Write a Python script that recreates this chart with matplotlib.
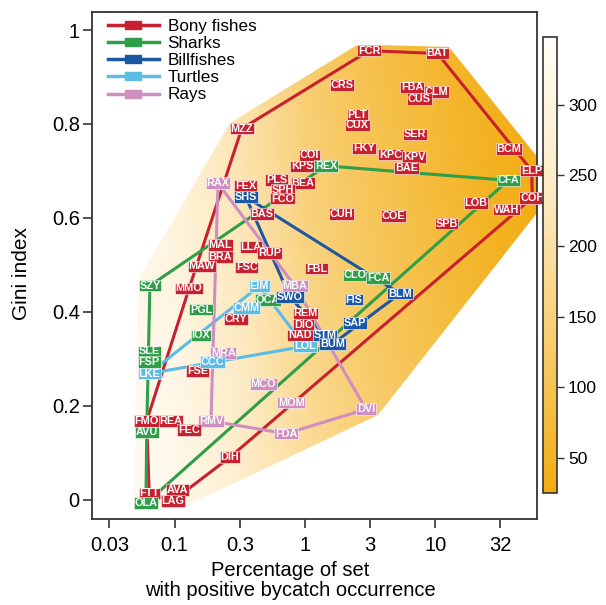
import numpy as np
import matplotlib
matplotlib.use('Agg')
import matplotlib.pyplot as plt
from matplotlib.colors import LinearSegmentedColormap
from matplotlib.lines import Line2D
from matplotlib.patches import Polygon
from matplotlib.path import Path

plt.rcParams['font.family'] = ['Liberation Sans', 'DejaVu Sans']

# species codes, % of set with positive bycatch, Gini index
bony_names = ['MZZ', 'FCR', 'BAT', 'CRS', 'FBA', 'CLM', 'CUS', 'PLT', 'CUX', 'SER',
              'FKY', 'KPC', 'KPV', 'BAE', 'COI', 'KPS', 'BEA', 'PLS', 'SPH', 'FCO',
              'FEX', 'BAS', 'BCM', 'ELP', 'COH', 'LOB', 'WAH', 'CUH', 'COE', 'SPB',
              'MAL', 'LLA', 'BRA', 'RUP', 'MAW', 'FSC', 'MMO', 'FBL', 'CRY', 'REM',
              'DIO', 'NAD', 'FSE', 'FMO', 'REA', 'FEC', 'DIH', 'FTT', 'AVA', 'LAG']
bony_pct = [0.327, 3.10, 10.4, 1.93, 6.66, 10.2, 7.54, 2.52, 2.52, 6.98,
            2.84, 4.55, 6.87, 6.03, 1.08, 0.948, 0.966, 0.607, 0.674, 0.674,
            0.351, 0.470, 36.8, 54.9, 55.5, 20.6, 35.3, 1.91, 4.76, 12.2,
            0.225, 0.385, 0.225, 0.532, 0.161, 0.357, 0.129, 1.23, 0.295, 1.01,
            0.982, 0.915, 0.150, 0.0610, 0.0937, 0.129, 0.266, 0.0638, 0.105, 0.0966]
bony_gini = [0.790, 0.956, 0.950, 0.883, 0.878, 0.868, 0.853, 0.819, 0.797, 0.778,
             0.748, 0.735, 0.730, 0.706, 0.733, 0.710, 0.674, 0.681, 0.659, 0.641,
             0.668, 0.609, 0.747, 0.701, 0.643, 0.632, 0.618, 0.609, 0.604, 0.588,
             0.542, 0.538, 0.517, 0.526, 0.497, 0.495, 0.450, 0.492, 0.385, 0.397,
             0.372, 0.350, 0.274, 0.168, 0.168, 0.149, 0.091, 0.014, 0.021, -0.002]

shark_names = ['REX', 'CFA', 'CLO', 'FCA', 'OCA', 'SZY', 'PGL', 'IOX', 'SLE', 'FSP', 'AVU', 'OLA']
shark_pct = [1.45, 36.3, 2.42, 3.65, 0.517, 0.0646, 0.159, 0.159, 0.0638, 0.0638, 0.0610, 0.0602]
shark_gini = [0.711, 0.680, 0.478, 0.472, 0.425, 0.456, 0.405, 0.350, 0.316, 0.294, 0.144, -0.007]

bill_names = ['SHS', 'SWO', 'BLM', 'FIS', 'SAP', 'STM', 'BUM']
bill_pct = [0.351, 0.767, 5.36, 2.38, 2.42, 1.42, 1.63]
bill_gini = [0.645, 0.432, 0.439, 0.426, 0.377, 0.350, 0.332]

turtle_names = ['EIM', 'CMM', 'CCC', 'LKE', 'LOL']
turtle_pct = [0.446, 0.357, 0.196, 0.0638, 1.0]
turtle_gini = [0.455, 0.408, 0.294, 0.269, 0.327]

ray_names = ['RAX', 'MBA', 'MRA', 'MCO', 'MOM', 'RMV', 'FDA', 'DVI']
ray_pct = [0.215, 0.838, 0.236, 0.479, 0.785, 0.190, 0.715, 2.94]
ray_gini = [0.674, 0.455, 0.313, 0.247, 0.207, 0.168, 0.141, 0.193]

# background shading values (colour bar units), read on a coarse grid
grad_logx = [-1.65, -1.0, -0.5, 0.0, 0.5, 1.0, 1.5, 1.8]
grad_gini = [-0.05, 0.5, 1.05]
grad_vals = [[348, 330, 270, 200, 150, 110, 70, 50],
             [348, 300, 230, 160, 115, 80, 45, 32],
             [348, 280, 200, 130, 90, 60, 35, 28]]
cbar_ticks = [50, 100, 150, 200, 250, 300]

xtick_logs = [-1.5, -1, -0.5, 0, 0.5, 1, 1.5]
xtick_labels = ['0.03', '0.1', '0.3', '1', '3', '10', '32']
ytick_vals = [0, 0.2, 0.4, 0.6, 0.8, 1]
ytick_labels = ['0', '0.2', '0.4', '0.6', '0.8', '1']

groups = [
    ('Bony fishes', bony_names, bony_pct, bony_gini, '#C8202E'),
    ('Sharks', shark_names, shark_pct, shark_gini, '#2E9E48'),
    ('Billfishes', bill_names, bill_pct, bill_gini, '#1D56A3'),
    ('Turtles', turtle_names, turtle_pct, turtle_gini, '#5BBCE6'),
    ('Rays', ray_names, ray_pct, ray_gini, '#CF8DC0'),
]


def convex_hull(pts):
    pts = sorted(set(map(tuple, pts)))

    def cross(o, a, b):
        return (a[0] - o[0]) * (b[1] - o[1]) - (a[1] - o[1]) * (b[0] - o[0])

    lower, upper = [], []
    for p in pts:
        while len(lower) >= 2 and cross(lower[-2], lower[-1], p) <= 0:
            lower.pop()
        lower.append(p)
    for p in reversed(pts):
        while len(upper) >= 2 and cross(upper[-2], upper[-1], p) <= 0:
            upper.pop()
        upper.append(p)
    h = lower[:-1] + upper[:-1]
    h.append(h[0])
    return np.array(h)


fig = plt.figure(figsize=(6.06, 6.05), dpi=100)
ax = fig.add_axes([0.1523, 0.1426, 0.7333, 0.8381])
cax = fig.add_axes([0.896, 0.1851, 0.0231, 0.7537])

ax.set_xscale('log')

cmap = LinearSegmentedColormap.from_list('bycatch', ['#F2AC10', '#F8CD6E', '#FDEBC4', '#FFFDF7'])

# shaded region: hull of all label boxes
all_pts = []
for _, n, p, g, _c in groups:
    for lx, gy in zip(np.log10(p), g):
        for dx in (-0.09, 0.09):
            for dy in (-0.013, 0.013):
                all_pts.append((lx + dx, gy + dy))
shade_hull = convex_hull(all_pts)

pcm = ax.pcolormesh(10 ** np.array(grad_logx), grad_gini, np.array(grad_vals),
                    cmap=cmap, vmin=25, vmax=348, shading='gouraud', zorder=1)
clip = Polygon(np.column_stack([10 ** shade_hull[:, 0], shade_hull[:, 1]]),
               closed=True, transform=ax.transData)
pcm.set_clip_path(clip)

# group hulls
for label, n, p, g, c in groups:
    h = convex_hull(np.column_stack([np.log10(p), g]))
    ax.plot(10 ** h[:, 0], h[:, 1], color=c, lw=2.2, zorder=3, solid_joinstyle='miter')

# species labels
draw_order = [4, 0, 1, 3, 2]
for i in draw_order:
    label, n, p, g, c = groups[i]
    for name, x, y in zip(n, p, g):
        ax.text(x, y, name, ha='center', va='center', fontsize=7.8, fontweight='bold',
                color='white', zorder=5,
                bbox=dict(boxstyle='square,pad=0.07', fc=c, ec='white', lw=0.4))

ax.set_xlim(10 ** -1.632, 10 ** 1.778)
ax.set_ylim(-0.040, 1.039)
ax.set_xticks(10 ** np.array(xtick_logs))
ax.set_xticklabels(xtick_labels)
ax.xaxis.set_minor_locator(matplotlib.ticker.NullLocator())
ax.set_yticks(ytick_vals)
ax.set_yticklabels(ytick_labels)
ax.tick_params(axis='both', labelsize=14.5, length=6.5, width=1.2, color='#333333')
ax.tick_params(axis='x', pad=6)
ax.tick_params(axis='y', pad=2.5)
for s in ax.spines.values():
    s.set_linewidth(1.3)
    s.set_color('#333333')

ax.set_xlabel('Percentage of set\nwith positive bycatch occurrence', fontsize=14.5, linespacing=1.05)
ax.xaxis.set_label_coords(0.445, -0.084)
ax.set_ylabel('Gini index', fontsize=15)
ax.yaxis.set_label_coords(-0.138, 0.483)

# legend with box-on-line handles
box = Path([(-1, -0.53), (1, -0.53), (1, 0.53), (-1, 0.53), (-1, -0.53)],
           [Path.MOVETO, Path.LINETO, Path.LINETO, Path.LINETO, Path.CLOSEPOLY])
handles = [Line2D([], [], color=c, lw=2.5, marker=box, markersize=11,
                  markerfacecolor=c, markeredgecolor=c) for _, _, _, _, c in groups]
ax.legend(handles, [gr[0] for gr in groups], loc='upper left', bbox_to_anchor=(0.035, 0.985),
          frameon=False, fontsize=12.3, handlelength=3.0, handletextpad=0.5,
          labelspacing=0.12, borderpad=0, borderaxespad=0, numpoints=1)

cb = fig.colorbar(pcm, cax=cax, ticks=cbar_ticks)
cb.outline.set_linewidth(1.2)
cb.outline.set_edgecolor('#333333')
cax.tick_params(labelsize=12.5, length=5, width=1, pad=3, color='#333333')

fig.savefig('out.png', dpi=100)
